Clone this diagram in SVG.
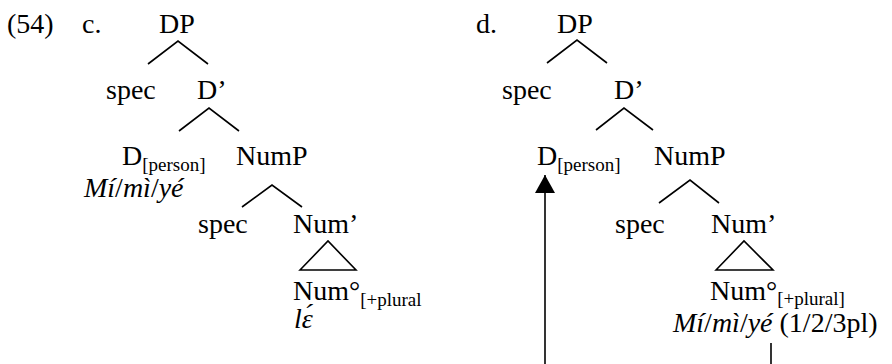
<svg xmlns="http://www.w3.org/2000/svg" width="892" height="364" viewBox="0 0 892 364">
  <style>
    text { font-family: "Liberation Serif", "Times New Roman", serif; font-size: 28px; fill: #000; }
    .sub { font-size: 19px; }
    .it { font-style: italic; }
    .edge { stroke: #000; stroke-width: 1.6; fill: none; }
  </style>
  <defs>
    <marker id="head" viewBox="0 0 18 20" refX="18" refY="10" markerWidth="18" markerHeight="20" markerUnits="userSpaceOnUse" orient="auto">
      <path d="M0 0 L18 10 L0 20 Z" fill="#000"/>
    </marker>
  </defs>

  <g id="labels">
    <text x="7" y="33">(54)</text>
    <text x="82" y="33">c.</text>
    <text x="476" y="33">d.</text>
  </g>

  <!-- tree c -->
  <g id="c-DP"><text x="177" y="33" text-anchor="middle">DP</text></g>
  <g id="c-spec1"><text x="106" y="99">spec</text></g>
  <g id="c-Dbar"><text x="197" y="99">D’</text></g>
  <g id="c-D"><text x="122" y="165">D<tspan class="sub" dy="6">[person]</tspan></text>
    <text x="84" y="197"><tspan class="it">Mí</tspan>/<tspan class="it">mì</tspan>/<tspan class="it">yé</tspan></text></g>
  <g id="c-NumP"><text x="236" y="165">NumP</text></g>
  <g id="c-spec2"><text x="198" y="233">spec</text></g>
  <g id="c-Numbar"><text x="293" y="233">Num’</text></g>
  <g id="c-Num"><text x="293" y="300">Num°<tspan class="sub" dy="6">[+plural</tspan></text>
    <text class="it" x="294" y="328">lɛ́</text></g>

  <!-- tree d -->
  <g id="d-DP"><text x="575" y="33" text-anchor="middle">DP</text></g>
  <g id="d-spec1"><text x="502" y="99">spec</text></g>
  <g id="d-Dbar"><text x="614" y="99">D’</text></g>
  <g id="d-D"><text x="537" y="165">D<tspan class="sub" dy="6">[person]</tspan></text></g>
  <g id="d-NumP"><text x="654" y="165">NumP</text></g>
  <g id="d-spec2"><text x="615" y="233">spec</text></g>
  <g id="d-Numbar"><text x="711" y="233">Num’</text></g>
  <g id="d-Num"><text x="710" y="300">Num°<tspan class="sub" dy="5">[+plural]</tspan></text>
    <text x="673" y="332"><tspan class="it">Mí</tspan>/<tspan class="it">mì</tspan>/<tspan class="it">yé</tspan> (1/2/3pl)</text></g>

  <g id="connectors">
    <!-- tree c branches -->
    <path class="edge" d="M148 64 L178 41 L208 64"/>
    <path class="edge" d="M179 131 L209 108 L239 131"/>
    <path class="edge" d="M242 207 L272 185 L302 207"/>
    <path class="edge" d="M300 270 L328 241 L356 270 Z"/>
    <!-- tree d branches -->
    <path class="edge" d="M547 63 L577 40 L607 63"/>
    <path class="edge" d="M596 130 L624 108 L653 130"/>
    <path class="edge" d="M659 203 L690 180 L719 203"/>
    <path class="edge" d="M716 270 L744 241 L773 270 Z"/>
    <!-- movement arrow -->
    <line class="edge" x1="545" y1="364" x2="545" y2="175" marker-end="url(#head)"/>
    <line class="edge" x1="771" y1="343" x2="771" y2="364"/>
  </g>
</svg>
